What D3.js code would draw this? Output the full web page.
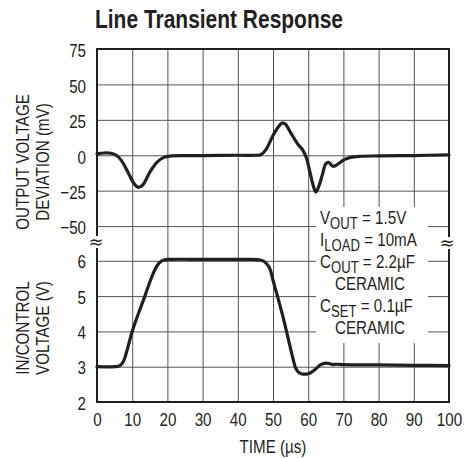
<!DOCTYPE html>
<html>
<head>
<meta charset="utf-8">
<script src="https://cdn.jsdelivr.net/npm/d3@7"></script>
<style>
  html, body { margin: 0; padding: 0; background: #fff; }
  svg { display: block; }
  text { font-family: "Liberation Sans", Arial, sans-serif; fill: #231f20; }
</style>
</head>
<body>
<svg id="chart" width="466" height="458"></svg>
<script>
// ---------- data ----------
const timeTicks = [0, 10, 20, 30, 40, 50, 60, 70, 80, 90, 100];
const mvTicks = [-50, -25, 0, 25, 50, 75];
const vTicks = [2, 3, 4, 5, 6];

// Output voltage deviation (mV) vs time (µs)
const devTime = [0, 2, 4, 5.5, 7, 9, 10.5, 11.7, 13, 15, 17, 19, 21, 25, 30, 40, 45, 46.5, 48, 50, 51.5, 52.6, 53.5, 55, 57, 58.5, 59.5, 60.5, 61.5, 62.2, 63, 64, 65, 65.8, 67, 68, 70, 72, 75, 80, 90, 100];
const devMv   = [1, 1.6, 1.4, 0, -4, -13, -20, -22.6, -21, -12, -5, -1.5, -0.5, -0.3, -0.2, 0, 0, 0.3, 4, 14, 20, 22.8, 22, 16, 8, 3.5, -2, -12, -22, -26, -22, -14, -6, -5, -7.8, -7, -3.5, -1.5, -0.7, -0.5, -0.2, 0.3];

// IN/CONTROL voltage (V) vs time (µs)
const ctrlTime = [0, 5, 6.5, 7.5, 8.5, 10, 13.6, 16, 17.5, 19, 21, 30, 40, 46, 47.5, 49, 50, 51.4, 53, 54.3, 55.5, 56.5, 57.5, 58.5, 60, 61, 62.3, 63.4, 65, 66, 67, 68, 70, 80, 90, 100];
const ctrlV    = [3.0, 3.0, 3.03, 3.15, 3.45, 4.0, 5.0, 5.65, 5.92, 6.02, 6.04, 6.04, 6.04, 6.03, 5.98, 5.8, 5.45, 4.95, 4.35, 3.8, 3.3, 2.95, 2.82, 2.79, 2.8, 2.85, 2.95, 3.05, 3.1, 3.09, 3.06, 3.07, 3.06, 3.05, 3.04, 3.03];

const titleText = "Line Transient Response";
const xTitle = "TIME (µs)";
const yTopTitle = ["OUTPUT VOLTAGE", "DEVIATION (mV)"];
const yBotTitle = ["IN/CONTROL", "VOLTAGE (V)"];
// [main, subscript, rest]
const annoLines = [
  ["V", "OUT", " = 1.5V"],
  ["I", "LOAD", " = 10mA"],
  ["C", "OUT", " = 2.2µF"],
  ["", "", "CERAMIC"],
  ["C", "SET", " = 0.1µF"],
  ["", "", "CERAMIC"]
];

// ---------- layout ----------
const L = 97, R = 449, T = 49, B = 402;
const SX = 0.82; // narrow (condensed) horizontal scale
const FS = 18.5;
const svg = d3.select("#chart");

const x = d3.scaleLinear().domain([0, 100]).range([L, R]);
const yTop = d3.scaleLinear().domain([-75, 75]).range([261.5, T]);
const yBot = d3.scaleLinear().domain([2, 7]).range([B, 225.5]);

const fmt = d => d < 0 ? "\u2212" + Math.abs(d) : String(d);

// grid + tick labels via axes
const gx = svg.append("g").attr("transform", `translate(0,${B})`)
  .call(d3.axisBottom(x).tickValues(timeTicks).tickSize(-(B - T)).tickPadding(10).tickFormat(d => d));
const gyT = svg.append("g").attr("transform", `translate(${L},0)`)
  .call(d3.axisLeft(yTop).tickValues(mvTicks).tickSize(-(R - L)).tickPadding(11).tickFormat(fmt));
const gyB = svg.append("g").attr("transform", `translate(${L},0)`)
  .call(d3.axisLeft(yBot).tickValues(vTicks).tickSize(-(R - L)).tickPadding(11).tickFormat(fmt));

[gx, gyT, gyB].forEach(g => {
  g.select(".domain").remove();
  g.selectAll(".tick line").attr("stroke", "#555").attr("stroke-width", 1);
  g.selectAll(".tick text").attr("font-size", FS).attr("fill", "#231f20")
    .style("font-family", '"Liberation Sans", Arial, sans-serif');
});
gyT.selectAll(".tick text").attr("dy", "0.42em");
gyB.selectAll(".tick text").attr("dy", "0.38em");
gx.selectAll(".tick text").attr("dy", "0.75em");
// condense tick labels
[gyT, gyB].forEach(g => g.selectAll(".tick text").each(function () {
  const t = d3.select(this);
  const tx = +t.attr("x");
  t.attr("x", 0).attr("transform", `translate(${tx},0) scale(${SX},1)`);
}));
gx.selectAll(".tick text").attr("transform", `scale(${SX},1)`);

// annotation white box (covers grid)
svg.append("rect").attr("x", 316).attr("y", 207).attr("width", 112).attr("height", 136).attr("fill", "#fff");

// frame
svg.append("rect").attr("x", L).attr("y", T).attr("width", R - L).attr("height", B - T)
  .attr("fill", "none").attr("stroke", "#231f20").attr("stroke-width", 2);

// break marks
[[L - 1, 242], [R - 2, 243]].forEach(([bx, by]) => {
  svg.append("rect").attr("x", bx - 6).attr("y", by - 6).attr("width", 12).attr("height", 12).attr("fill", "#fff");
  svg.append("text").attr("x", bx).attr("y", by).attr("dy", "0.35em").attr("text-anchor", "middle")
    .attr("font-size", 18).style("font-family", '"DejaVu Sans", sans-serif').text("\u2248");
});

// curves
const lineTop = d3.line().x((d, i) => x(devTime[i])).y(d => yTop(d)).curve(d3.curveCatmullRom.alpha(0.5));
const lineBot = d3.line().x((d, i) => x(ctrlTime[i])).y(d => yBot(d)).curve(d3.curveCatmullRom.alpha(0.5));
svg.append("path").attr("d", lineTop(devMv)).attr("fill", "none").attr("stroke", "#231f20")
  .attr("stroke-width", 3.2).attr("stroke-linejoin", "round").attr("stroke-linecap", "round");
svg.append("path").attr("d", lineBot(ctrlV)).attr("fill", "none").attr("stroke", "#231f20")
  .attr("stroke-width", 3.2).attr("stroke-linejoin", "round").attr("stroke-linecap", "round");

// helper: condensed text anchored at (px,py)
function ctext(px, py, str, opts = {}) {
  const t = svg.append("text")
    .attr("transform", `translate(${px},${py})${opts.rotate ? " rotate(" + opts.rotate + ")" : ""} scale(${SX},1)`)
    .attr("font-size", opts.size || FS)
    .attr("text-anchor", opts.anchor || "start");
  if (opts.weight) t.attr("font-weight", opts.weight);
  if (str !== null) t.text(str);
  return t;
}

// title
svg.append("text").attr("x", 95).attr("y", 28).attr("font-size", 25).attr("font-weight", "bold")
  .attr("textLength", 248).attr("lengthAdjust", "spacingAndGlyphs").text(titleText);

// x title
ctext(273, 453, xTitle, { anchor: "middle" });

// y titles
yTopTitle.forEach((t, i) => ctext([28.5, 48.5][i], 162, t, { anchor: "middle", rotate: -90 }));
yBotTitle.forEach((t, i) => ctext([28.5, 48.5][i], 328, t, { anchor: "middle", rotate: -90 }));

// annotation
annoLines.forEach((ln, i) => {
  const yy = 224 + i * 22;
  if (ln[0] === "") {
    ctext(335, yy, ln[2]);
  } else {
    const t = ctext(320, yy, null);
    t.append("tspan").text(ln[0]);
    t.append("tspan").attr("font-size", 16).attr("dy", 4.5).text(ln[1]);
    t.append("tspan").attr("dy", -4.5).text(ln[2]);
  }
});
</script>
</body>
</html>
